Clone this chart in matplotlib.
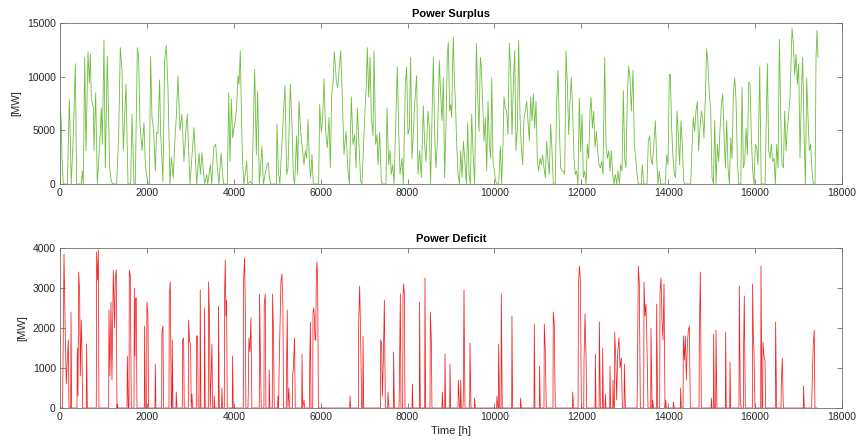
import matplotlib
matplotlib.use("Agg")
import matplotlib.pyplot as plt

# Power surplus: (hour, MW) vertices
surplus_pts = [
(0,7600),(31,5600),(46,2400),(77,0),(170,0),(215,7900),(260,0),(315,5600),(353,11200),(384,0),(491,0),(514,1200),(537,0),(568,11800),(598,3100),(644,12300),(675,9400),(698,12100),(721,8000),(767,7100),(782,3100),(821,8500),(859,0),(913,3700),(951,7100),(974,3700),(1012,13400),(1043,1500),(1089,11900),(1143,1500),(1181,250),(1220,0),(1304,0),(1350,4500),(1388,12700),(1427,10600),(1457,3100),(1519,9300),(1565,0),(1626,0),(1657,6500),(1703,0),(1733,0),(1780,12700),(1810,11800),(1841,5600),(1887,3100),(1933,5700),(1964,1800),(1994,900),(2025,0),(2056,0),(2086,11900),(2117,6200),(2155,5000),(2194,1200),(2224,4800),(2255,4700),(2293,9700),(2316,4800),(2370,250),(2408,11500),(2447,12900),(2485,9000),(2531,0),(2562,2500),(2608,600),(2639,3700),(2677,6200),(2716,10100),(2761,5000),(2807,6500),(2853,2100),(2892,4700),(2930,6500),(2961,3100),
(2991,0),(3085,5250),(3116,2400),(3146,0),(3200,2900),(3231,900),(3269,2900),(3300,1200),(3330,0),(3377,900),(3400,0),(3461,1800),(3492,0),(3538,3400),(3584,3700),(3622,1500),(3660,0),(3706,2900),(3737,1200),(3768,0),(3852,0),(3883,8500),(3913,2100),(3944,7900),(3975,4300),(4005,5200),(4036,5900),(4067,7300),(4097,10100),(4120,9300),(4151,12400),(4182,5200),(4205,1800),(4235,0),(4297,2100),(4320,0),(4374,250),(4420,0),(4481,10700),(4519,2700),(4550,8700),(4588,0),(4650,3500),(4680,0),(4765,1800),(4795,2000),(4818,600),(4850,0),(4980,0),(4995,5600),(5026,1200),(5060,0),(5179,9200),(5217,900),(5248,1500),(5302,9300),(5340,5600),(5371,900),(5400,0),(5447,4500),(5470,900),(5501,7700),(5540,4900),(5578,3400),(5616,1800),(5647,3100),(5677,2400),(5708,6000),(5739,2100),(5770,600),(5800,2750),(5830,0),(5954,0),
(5977,7400),(6016,4800),(6046,6200),(6077,9800),(6115,4800),(6154,3400),(6192,6200),(6223,1500),(6253,8400),(6284,9300),(6315,12300),(6361,9600),(6392,9000),(6430,10900),(6461,12400),(6491,9000),(6537,2750),(6583,4900),(6629,1200),(6660,0),(6706,8100),(6744,3700),(6783,4600),(6813,1500),(6844,7100),(6882,3700),(6921,250),(6951,0),(7013,6200),(7051,9300),(7074,12700),(7105,8100),(7136,11800),(7166,6200),(7205,4500),(7228,12400),(7266,3700),(7297,4600),(7320,1800),(7358,4800),(7396,250),(7420,0),(7504,0),(7527,7100),(7565,1800),(7596,3100),(7626,900),(7657,1800),(7688,0),(7764,10900),(7795,5200),(7826,900),(7872,2400),(7903,0),(7949,9300),(7979,10900),(8010,4600),(8041,5200),(8071,11800),(8102,2400),(8132,4600),(8163,7400),(8209,10100),(8240,900),(8278,3100),(8317,600),(8363,7300),(8393,3700),(8424,2100),(8470,6800),(8501,5200),(8530,0),(8593,11800),(8624,4600),(8654,1500),(8685,3700),(8731,11500),(8761,8400),(8792,5900),(8823,9900),(8854,600),(8884,5200),(8915,12100),(8938,13200),(8969,6800),
(8993,7400),(9016,6200),(9039,11700),(9055,13700),(9078,9600),(9101,7800),(9131,3700),(9162,900),(9193,0),(9223,3100),(9254,600),(9285,4000),(9315,2400),(9354,0),(9384,5700),(9415,900),(9446,0),(9476,6500),(9506,3100),(9545,0),(9584,13100),(9614,8100),(9645,4900),(9676,11800),(9699,10900),(9729,7400),(9760,4000),(9791,6200),(9822,1200),(9852,7700),(9883,3700),(9914,2400),(9937,9900),(9967,2100),(10006,900),(10029,250),(10060,0),(10100,0),(10136,3500),(10167,0),(10197,3700),(10220,8100),(10251,7000),(10281,6800),(10312,4600),(10343,13100),(10374,10600),(10404,4600),(10443,10200),(10466,12400),(10496,3100),(10527,5200),(10558,13400),(10589,6200),(10619,3400),(10650,1800),(10681,6200),(10711,6800),(10742,7700),(10772,5900),(10803,4000),(10834,8100),(10865,5900),(10896,8400),(10926,5200),(10957,7700),(10988,2100),(11018,1200),(11049,2400),(11080,1800),(11110,2700),(11141,1500),(11172,600),(11202,4000),(11233,2100),(11264,900),(11294,5600),(11325,3100),(11356,0),(11400,0),(11432,7700),(11463,10600),(11494,5200),(11524,1500),(11555,1200),(11586,1200),(11617,900),(11647,12400),(11678,9300),(11708,4600),(11739,7700),(11770,9900),(11800,6800),(11831,2400),(11862,900),(11892,1200),(11923,0),
(11954,8000),(11984,3000),(12016,6500),(12047,600),(12077,1200),(12108,0),(12139,3700),(12169,2400),(12200,6800),(12223,8100),(12254,5200),(12284,6800),(12315,3400),(12346,4900),(12376,3100),(12407,1800),(12438,1500),(12468,2100),(12499,900),(12538,11800),(12568,3700),(12599,2400),(12630,3100),(12660,1200),(12691,3100),(12722,900),(12752,0),(12783,900),(12814,0),(12844,1200),(12875,0),(12906,1800),(12936,1200),(12967,8700),(12998,2400),(13028,1500),(13059,8400),(13090,11000),(13120,9900),(13151,6800),(13189,10600),(13220,3700),(13251,2400),(13282,900),(13312,0),(13380,0),(13404,1800),(13435,0),(13512,0),(13542,4000),(13573,4500),(13604,2400),(13634,1800),(13665,3400),(13704,5900),(13734,2400),(13765,0),(13795,1200),(13826,0),(13933,0),(13964,2700),(13995,1800),(14026,10200),(14049,10200),(14079,5200),(14110,2400),(14141,900),(14171,600),(14202,6800),(14233,4600),(14263,1800),(14294,5900),(14325,3700),(14355,250),(14385,0),(14517,0),(14547,3400),(14578,6200),(14608,4900),(14639,6800),(14670,7700),(14700,3100),(14731,5200),(14762,6800),(14792,6200),(14823,4300),(14854,8100),(14884,12600),(14915,11200),(14946,8400),(14977,6800),
(15009,600),(15040,0),(15070,5900),(15101,0),(15132,3700),(15162,2100),(15193,5200),(15224,7400),(15254,8400),(15285,4600),(15316,1500),(15346,5900),(15377,1500),(15408,0),(15439,4300),(15469,2400),(15500,8400),(15531,9900),(15561,7800),(15592,2100),(15623,0),(15670,0),(15699,9000),(15730,1500),(15761,2100),(15791,5200),(15822,2700),(15853,9500),(15883,9300),(15914,4300),(15945,1200),(15975,0),(16006,3700),(16037,3400),(16067,1800),(16106,10900),(16140,0),(16230,0),(16282,11200),(16313,3100),(16344,2400),(16374,3700),(16405,2100),(16436,2400),(16466,0),(16497,3700),(16528,1500),(16558,13500),(16589,6500),(16620,1800),(16651,1500),(16681,6800),(16712,3100),(16742,5200),(16773,6500),(16804,8100),(16834,12400),(16850,14500),(16880,13100),(16911,10200),(16942,12100),(16973,9300),(17003,11200),(17034,2400),(17065,8400),(17095,11800),(17126,4900),(17157,0),(17187,9900),(17218,6200),(17248,3100),(17279,3700),(17310,1200),(17341,0),(17380,0),(17402,11800),(17425,14300),(17448,11800),
]

# Power deficit: (hour, MW) vertices
deficit_pts = [
(0,0),(60,0),(92,3850),(122,1800),(145,600),(168,1200),(191,1700),(207,0),(245,0),(253,2400),(268,0),(390,0),(398,1500),(414,300),(429,3400),(452,2900),(467,800),(490,2200),(506,1400),(521,0),(605,0),(613,1600),(629,0),(835,0),(843,3900),(866,3200),(882,3950),(897,0),(1120,0),(1127,2450),(1150,800),(1173,2650),(1196,700),(1227,3450),(1258,2000),(1273,3250),(1296,3450),(1311,0),(1319,100),(1335,0),(1542,0),(1549,1300),(1572,0),(1588,0),(1595,3450),(1618,3300),(1641,0),(1703,0),(1710,3000),(1725,1300),(1741,2750),(1756,2750),(1772,0),(1940,0),(1948,2050),(1963,0),(1994,0),(2001,2650),(2024,2350),(2040,0),(2186,0),(2193,1100),(2209,0),(2340,0),(2347,1900),(2370,2050),(2385,0),(2508,0),(2515,2800),(2538,3150),(2561,0),(2577,0),(2584,1700),(2600,0),(2669,0),(2676,400),(2692,0),(2815,0),(2822,1700),(2845,1750),(2860,0),(2953,0),(2960,2200),(2983,1650),(3006,1600),(3021,0),(3037,350),(3052,0),(3137,0),(3144,1800),(3167,1800),(3182,0),(3221,0),(3228,2950),(3244,0),(3321,0),(3328,2500),(3343,0),(3413,0),(3420,3150),(3443,2200),(3458,0),(3474,650),(3497,1600),(3512,0),(3544,0),(3551,300),(3566,0),(3643,0),(3650,2550),(3666,0),(3720,0),(3727,500),(3743,0),(3782,0),(3789,2900),(3804,3700),(3819,2300),(3835,2700),(3850,0),(3966,0),(3973,1300),(3988,0),
(4219,0),(4226,3200),(4249,3750),(4264,2600),(4279,0),(4326,0),(4333,350),(4348,1750),(4372,1400),(4395,2250),(4417,0),(4587,0),(4594,2850),(4609,1600),(4632,0),(4694,0),(4701,2600),(4724,2850),(4740,0),(4809,0),(4816,950),(4832,0),(4886,0),(4893,2850),(4916,1800),(4931,0),(5009,0),(5016,300),(5031,0),(5046,1100),(5085,3150),(5108,3350),(5131,2500),(5146,0),(5208,0),(5215,900),(5231,2450),(5246,0),(5269,500),(5284,0),(5350,0),(5356,900),(5369,900),(5399,1750),(5415,0),(5564,0),(5571,1350),(5586,0),(5617,200),(5632,0),(5741,0),(5748,1100),(5763,2150),(5778,0),(5817,0),(5824,2400),(5840,2500),(5855,2300),(5870,1700),(5886,1700),(5901,3400),(5916,3650),(5932,3000),(5947,0),
(6668,0),(6675,300),(6691,0),(6868,0),(6875,2150),(6898,3050),(6921,1700),(6944,0),(6968,0),(6975,1800),(6990,0),(7374,0),(7381,1700),(7404,1600),(7420,300),(7443,1200),(7466,2700),(7489,0),(7543,0),(7550,400),(7573,0),(7673,0),(7680,1400),(7696,0),(7804,0),(7811,600),(7834,2850),(7849,0),(7888,0),(7895,2750),(7910,3100),(7926,2850),(7941,0),(8103,0),(8110,600),(8125,0),(8271,0),(8278,2650),(8294,0),(8394,0),(8401,3250),(8417,0),(8517,0),(8524,2400),(8547,1700),(8562,0),(8793,0),(8800,400),(8815,0),(8855,0),(8862,1350),(8877,0),(8970,0),(8977,1100),(8992,0),(9161,0),(9168,700),(9184,300),(9199,0),(9215,0),(9222,700),(9238,0),(9276,0),(9283,300),(9299,2950),(9322,0),(9430,0),(9437,1620),(9460,0),(9537,0),(9544,250),(9560,0),
(10050,0),(10058,300),(10081,0),(10089,0),(10096,1600),(10119,0),(10151,0),(10158,2850),(10181,0),(10396,0),(10403,2300),(10419,0),(10596,0),(10603,250),(10618,0),(10910,0),(10917,2100),(10933,0),(11033,0),(11040,1050),(11055,0),(11140,0),(11147,2100),(11170,1450),(11193,0),(11347,0),(11354,2400),(11377,2100),(11400,0),(11794,0),(11801,400),(11822,0),(11925,0),(11932,3000),(11955,3550),(11978,3200),(12001,0),(12055,0),(12062,1200),(12085,2350),(12108,1300),(12124,0),(12316,0),(12323,1350),(12338,0),(12408,0),(12415,2150),(12438,0),(12485,0),(12492,1500),(12507,0),(12546,0),(12553,350),(12568,0),(12653,0),(12660,1050),(12676,0),(12722,0),(12729,700),(12745,0),(12761,0),(12768,1900),(12791,1300),(12814,200),(12837,1400),(12867,1750),(12890,1000),(12921,1250),(12944,0),(12983,0),(12990,1100),(13013,0),
(13282,0),(13289,500),(13312,3550),(13335,3100),(13358,0),(13436,0),(13443,3150),(13466,2300),(13489,2600),(13512,1500),(13535,0),(13597,0),(13604,2000),(13627,0),(13642,200),(13665,0),(13727,0),(13734,2600),(13757,0),(13804,0),(13811,2900),(13834,3250),(13857,2200),(13880,1700),(13903,3100),(13926,0),(13941,200),(13956,0),(14111,0),(14118,150),(14141,0),(14279,0),(14286,500),(14302,0),(14341,0),(14348,1800),(14371,1200),(14394,1800),(14417,700),(14440,1600),(14463,1950),(14486,2050),(14509,0),(14709,0),(14716,1800),(14739,3400),(14762,0),(14985,0),(14992,250),(15007,0),(15039,0),(15046,1850),(15061,0),(15093,0),(15100,1950),(15122,0),(15315,0),(15322,1900),(15337,0),(15415,0),(15422,1150),(15437,0),(15629,0),(15636,3050),(15659,300),(15675,0),(15729,0),(15736,1600),(15751,2800),(15774,0),(15936,0),(15943,3100),(15958,1900),(15974,1400),(15997,0),(16128,0),(16135,3550),(16158,0),(16174,0),(16181,1650),(16204,1300),(16227,1200),(16242,0),(16465,0),(16472,2150),(16495,0),(16596,0),(16603,600),(16626,1250),(16649,0),(17110,0),(17117,550),(17132,0),(17294,0),(17301,50),(17339,1600),(17362,1950),(17377,0),(17431,0),
]

x_ticks = [0, 2000, 4000, 6000, 8000, 10000, 12000, 14000, 16000, 18000]
surplus_yticks = [0, 5000, 10000, 15000]
deficit_yticks = [0, 1000, 2000, 3000, 4000]
titles = ["Power Surplus", "Power Deficit"]
ylabel = "[MW]"
xlabel = "Time [h]"

plt.rcParams['font.family'] = ['Liberation Sans', 'DejaVu Sans']

W, H = 857, 442
fig = plt.figure(figsize=(W / 100, H / 100), dpi=100)

def px_axes(left, top, right, bottom):
    return fig.add_axes([left / W, 1 - bottom / H, (right - left) / W, (bottom - top) / H])

ax1 = px_axes(60, 23, 842, 184)
ax2 = px_axes(60, 248, 842, 408)

st, sv = zip(*surplus_pts)
dt, dv = zip(*deficit_pts)

ax1.plot(st, sv, color='#6EBE3C', lw=0.6)
ax2.plot(dt, dv, color='#F22020', lw=0.55)

axis_col = '#262626'
spine_col = '#707070'
for ax, yt, title in ((ax1, surplus_yticks, titles[0]), (ax2, deficit_yticks, titles[1])):
    ax.set_xlim(0, 18000)
    ax.set_ylim(yt[0], yt[-1])
    ax.set_xticks(x_ticks)
    ax.set_yticks(yt)
    ax.set_xticklabels([str(v) for v in x_ticks])
    ax.set_yticklabels([str(v) for v in yt])
    ax.tick_params(direction='in', top=True, right=True, length=3.5, width=0.6,
                   labelsize=7.5, colors=axis_col, color=spine_col, pad=3)
    for s in ax.spines.values():
        s.set_color(spine_col)
        s.set_linewidth(0.6)
    ax.set_title(title, fontsize=8, fontweight='bold', color='black', pad=4)
    ax.set_ylabel(ylabel, fontsize=8, color=axis_col, labelpad=4)

ax2.set_xlabel(xlabel, fontsize=8, color=axis_col, labelpad=3)

fig.savefig('out.png', dpi=100)
